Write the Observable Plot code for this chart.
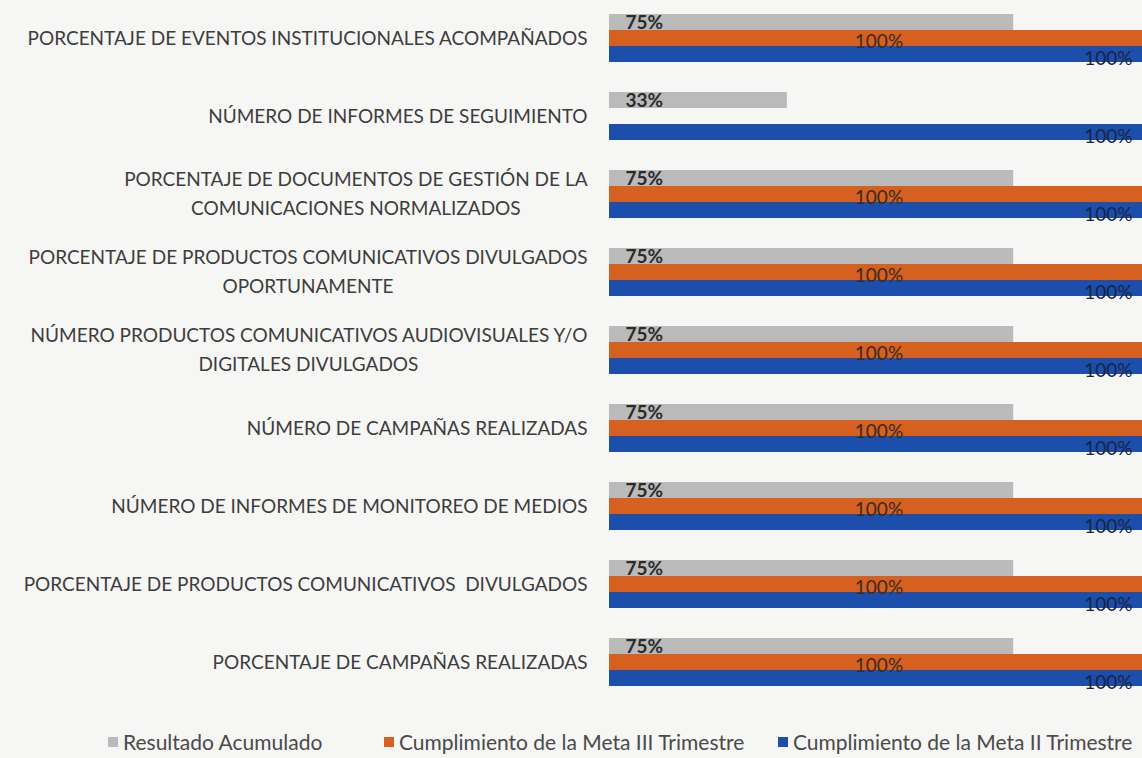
<!DOCTYPE html>
<html>
<head>
<meta charset="utf-8">
<script src="https://cdn.jsdelivr.net/npm/d3@7"></script>
<script src="https://cdn.jsdelivr.net/npm/@observablehq/plot@0.6"></script>
<style>
  html, body { margin: 0; padding: 0; background: #f6f6f5; }
  #chart { width: 1142px; overflow: hidden; }
  #legend {
    position: relative; height: 58px; width: 1142px; overflow: hidden;
    font-family: Lato, "Open Sans", sans-serif; font-size: 21px; color: #4a4a4a;
  }
  .item { position: absolute; top: 29px; line-height: 26px; white-space: nowrap; display: flex; align-items: center; }
  .sw { width: 10px; height: 10px; display: inline-block; margin-right: 5px; }
</style>
</head>
<body>
<div id="chart"></div>
<div id="legend"></div>
<script>
// ---- data ----
const categories = [
  "PORCENTAJE DE EVENTOS INSTITUCIONALES ACOMPAÑADOS",
  "NÚMERO DE INFORMES DE SEGUIMIENTO",
  "PORCENTAJE DE DOCUMENTOS DE GESTIÓN DE LA\nCOMUNICACIONES NORMALIZADOS",
  "PORCENTAJE DE PRODUCTOS COMUNICATIVOS DIVULGADOS\nOPORTUNAMENTE",
  "NÚMERO PRODUCTOS COMUNICATIVOS AUDIOVISUALES Y/O\nDIGITALES DIVULGADOS",
  "NÚMERO DE CAMPAÑAS REALIZADAS",
  "NÚMERO DE INFORMES DE MONITOREO DE MEDIOS",
  "PORCENTAJE DE PRODUCTOS COMUNICATIVOS  DIVULGADOS",
  "PORCENTAJE DE CAMPAÑAS REALIZADAS"
];
const series = [
  "Resultado Acumulado",
  "Cumplimiento de la Meta III Trimestre",
  "Cumplimiento de la Meta II Trimestre"
];
const resultadoAcumulado = [0.75, 0.33, 0.75, 0.75, 0.75, 0.75, 0.75, 0.75, 0.75];
const metaIIITrimestre   = [1.00, null, 1.00, 1.00, 1.00, 1.00, 1.00, 1.00, 1.00];
const metaIITrimestre    = [1.00, 1.00, 1.00, 1.00, 1.00, 1.00, 1.00, 1.00, 1.00];
const colors = ["#bababa", "#d5601f", "#1c4eab"];

// ---- build table ----
const valuesBySeries = [resultadoAcumulado, metaIIITrimestre, metaIITrimestre];
const data = [];
categories.forEach((c, i) => {
  series.forEach((s, j) => {
    const v = valuesBySeries[j][i];
    if (v != null) data.push({category: c, series: s, value: v});
  });
});
const pct = d => Math.round(d.value * 100) + "%";

const labelFont = "Lato, 'Open Sans', sans-serif";
const labelSize = 19;
const labelColor = "#3d3d3d";
const ctx = document.createElement("canvas").getContext("2d");
ctx.font = `${labelSize}px Lato`;

const labelDx = -22;
const labelMarks = categories.map(c => {
  const lines = c.split("\n");
  if (lines.length === 1) {
    return [Plot.text([c], {fy: d => d, frameAnchor: "left", dx: labelDx, textAnchor: "end",
      text: d => d, fontSize: labelSize, fill: labelColor})];
  }
  const w1 = ctx.measureText(lines[0]).width;
  return [
    Plot.text([c], {fy: d => d, frameAnchor: "left", dx: labelDx, dy: -15, textAnchor: "end",
      text: () => lines[0], fontSize: labelSize, fill: labelColor}),
    Plot.text([c], {fy: d => d, frameAnchor: "left", dx: labelDx - w1 / 2, dy: 14, textAnchor: "middle",
      text: () => lines[1], fontSize: labelSize, fill: labelColor})
  ];
}).flat();

const chart = Plot.plot({
  width: 1142,
  height: 700,
  marginLeft: 609,
  marginRight: 0,
  marginTop: 0,
  marginBottom: 1,
  style: {fontFamily: labelFont, background: "transparent", overflow: "hidden"},
  x: {domain: [0, 0.989], axis: null},
  y: {domain: series, padding: 0, axis: null},
  fy: {domain: categories, paddingInner: 0.385, paddingOuter: 0.166, axis: null},
  color: {domain: series, range: colors},
  marks: [
    Plot.barX(data, {x: "value", y: "series", fy: "category", fill: "series"}),
    Plot.text(data.filter(d => d.series === series[0]), {
      x: 0, y: "series", fy: "category", text: pct, textAnchor: "start",
      dx: 16, dy: 0, fontWeight: "bold", fontSize: 19, fill: "#2b2b2b"}),
    Plot.text(data.filter(d => d.series === series[1]), {
      x: d => d.value / 2, y: "series", fy: "category", text: pct, textAnchor: "middle",
      dy: 3, fontSize: 19, fill: "#3a2a20"}),
    Plot.text(data.filter(d => d.series === series[2]), {
      x: "value", y: "series", fy: "category", text: pct, textAnchor: "end",
      dx: -16, dy: 4, fontSize: 19, fill: "#1a2440"}),
    ...labelMarks
  ]
});
document.getElementById("chart").appendChild(chart);

// ---- legend ----
const legendLeft = [108, 384, 778];
const legend = document.getElementById("legend");
series.forEach((s, i) => {
  const item = document.createElement("div");
  item.className = "item";
  item.style.left = legendLeft[i] + "px";
  const sw = document.createElement("span");
  sw.className = "sw";
  sw.style.background = colors[i];
  item.appendChild(sw);
  item.appendChild(document.createTextNode(s));
  legend.appendChild(item);
});
</script>
</body>
</html>
